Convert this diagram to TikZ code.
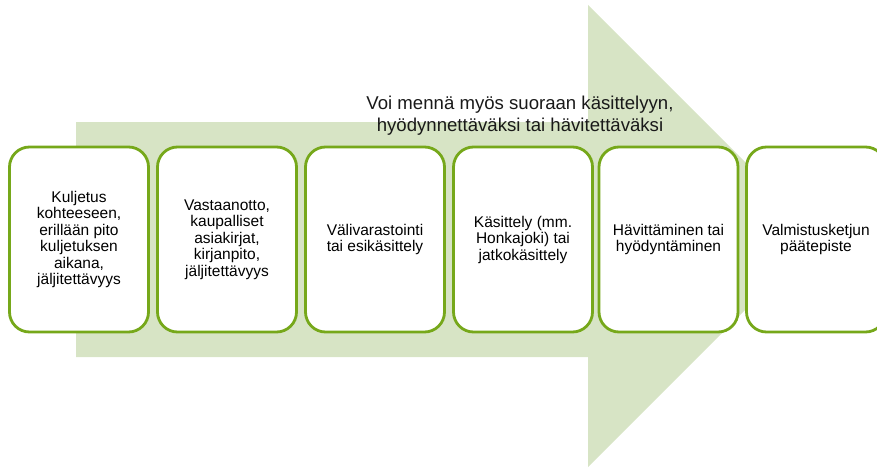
\documentclass[tikz,border=0pt]{standalone}
\usepackage{fontspec}
\setmainfont{Liberation Sans}
\definecolor{arrowfill}{HTML}{D7E4C5}
\definecolor{boxline}{HTML}{76A81A}
\begin{document}
\begin{tikzpicture}[x=1pt,y=-1pt,
  stagebox/.style={draw=boxline, line width=2.8pt, fill=white, rounded corners=20pt,
    minimum width=139pt, minimum height=185pt, inner sep=2pt, align=center,
    font=\fontsize{15.5}{16.5}\selectfont, text=black},
  titletext/.style={align=center, font=\fontsize{18.6}{22}\selectfont, text=black!90}]
\useasboundingbox (0,0) rectangle (877,468);
\clip (0,0) rectangle (877,468);
\fill[arrowfill] (76,122) -- (588,122) -- (588,5) -- (819,236) -- (588,467) -- (588,357) -- (76,357) -- cycle;
\node[titletext] (title) at (520,116) {Voi mennä myös suoraan käsittelyyn,\\hyödynnettäväksi tai hävitettäväksi};
\node[stagebox] (b1) at (79,239.5) {Kuljetus\\kohteeseen,\\erillään pito\\kuljetuksen\\aikana,\\jäljitettävyys};
\node[stagebox] (b2) at (227,239.5) {Vastaanotto,\\kaupalliset\\asiakirjat,\\kirjanpito,\\jäljitettävyys};
\node[stagebox] (b3) at (375,239.5) {Välivarastointi\\tai esikäsittely};
\node[stagebox] (b4) at (523,239.5) {Käsittely (mm.\\Honkajoki) tai\\jatkokäsittely};
\node[stagebox] (b5) at (668.5,239.5) {Hävittäminen tai\\hyödyntäminen};
\node[stagebox] (b6) at (816,239.5) {Valmistusketjun\\päätepiste};
\end{tikzpicture}
\end{document}
